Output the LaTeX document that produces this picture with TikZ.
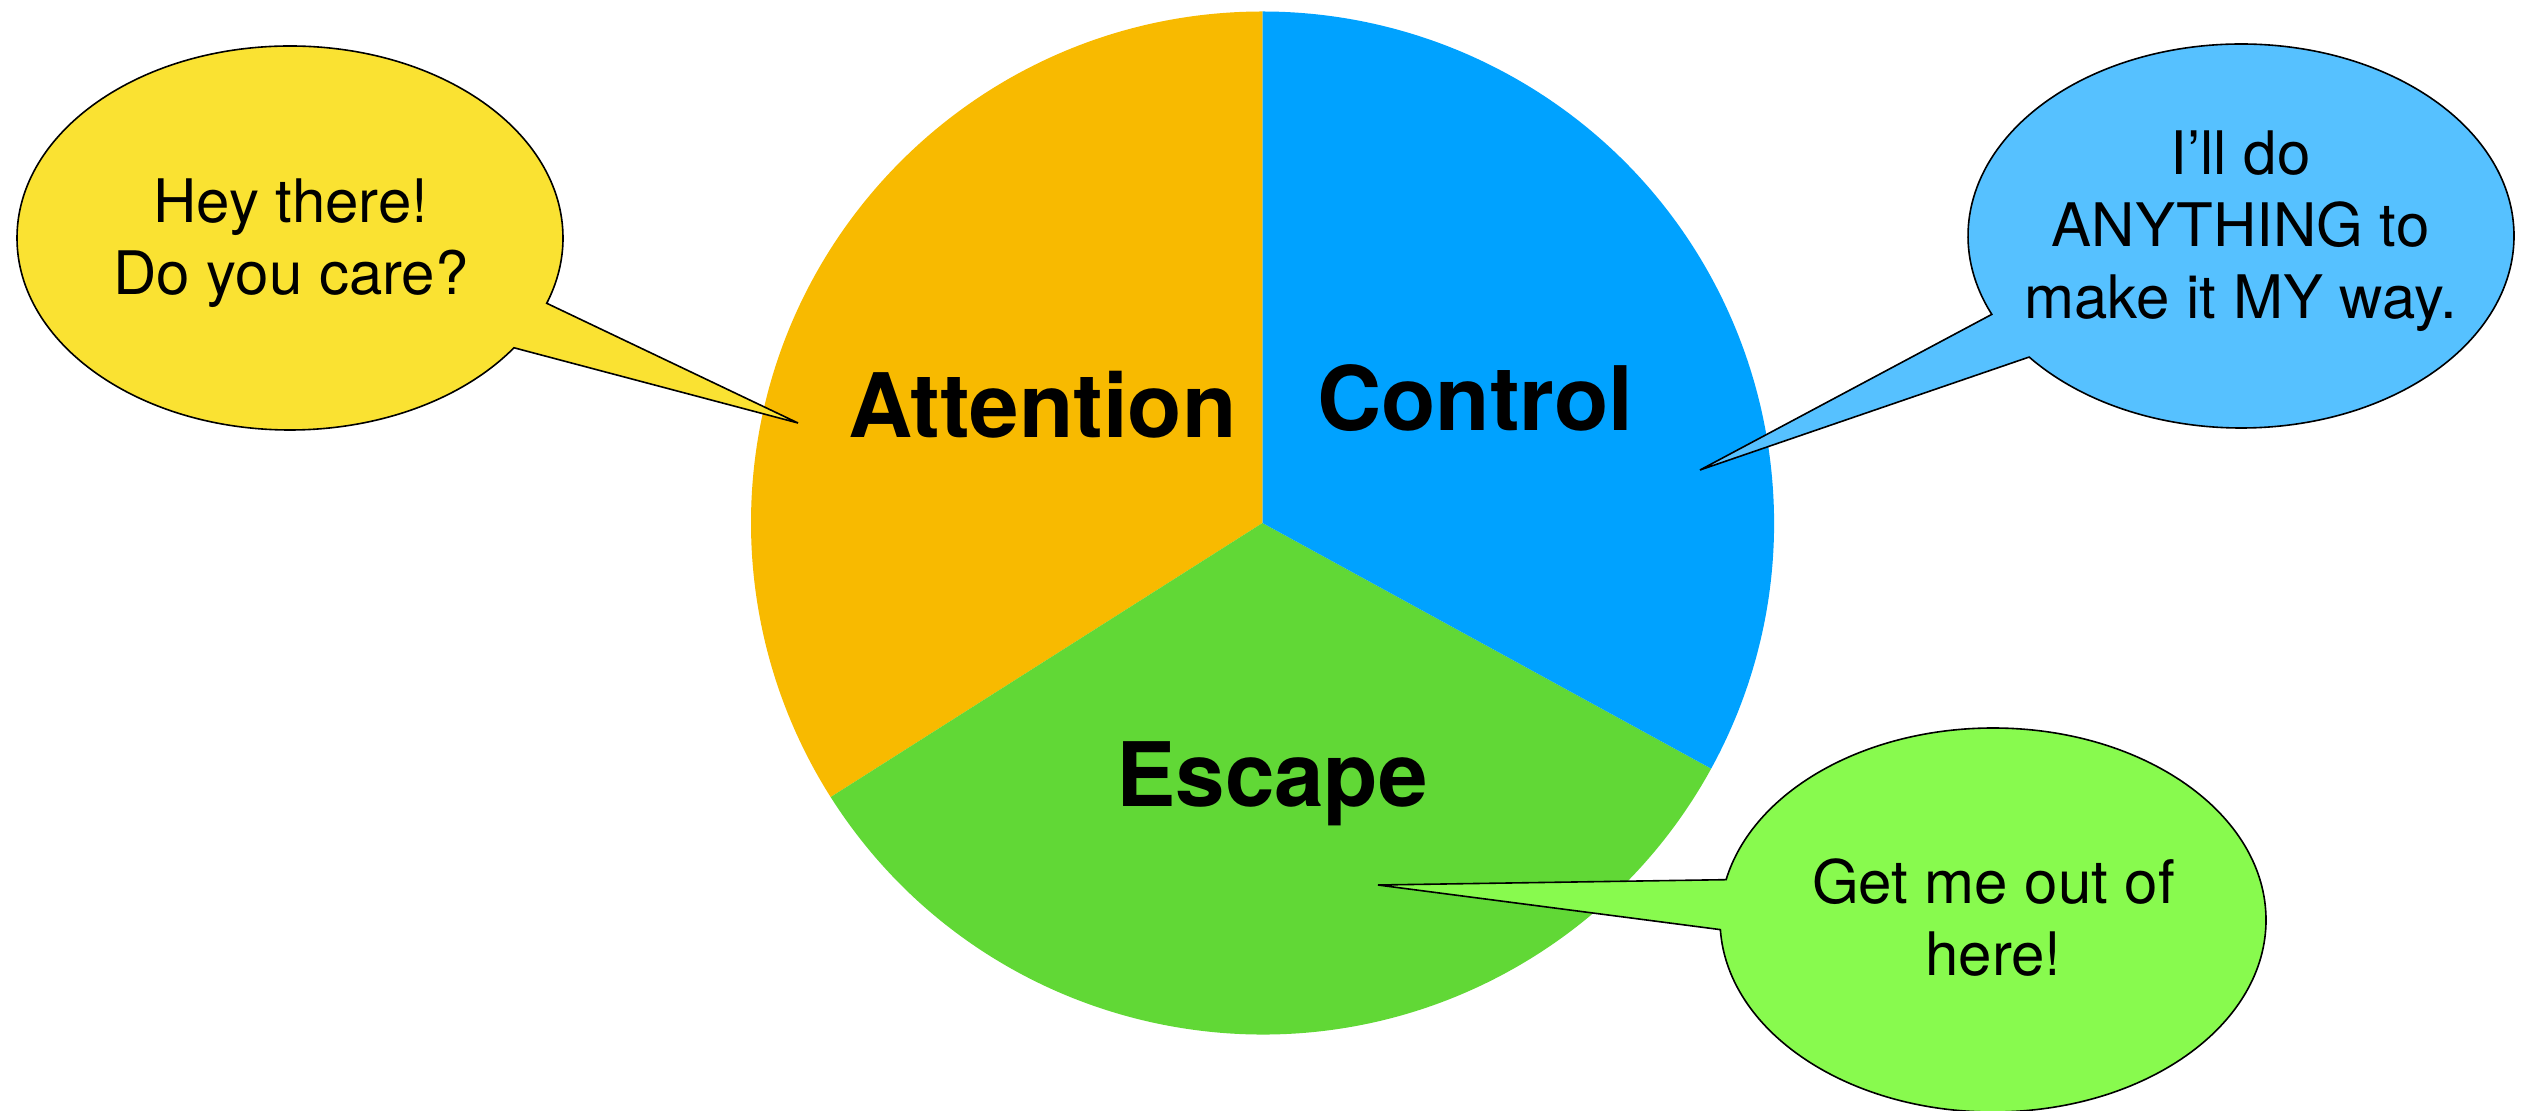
\documentclass[tikz,border=0pt]{standalone}
\usepackage{fontspec}
\setmainfont{TeX Gyre Heros}
\usepackage{xcolor}
\usepackage{tikz}
\usetikzlibrary{shapes.callouts}

\definecolor{attnC}{HTML}{F8BA00}
\definecolor{ctrlC}{HTML}{00A2FF}
\definecolor{escC}{HTML}{61D836}
\definecolor{heyC}{HTML}{FAE232}
\definecolor{wayC}{HTML}{56C1FF}
\definecolor{outC}{HTML}{88FA4E}

\begin{document}
\begin{tikzpicture}[x=0.5pt, y=-0.5pt,
  slicelabel/.style={font=\fontsize{44.5}{53}\selectfont\bfseries, anchor=base, inner sep=0pt},
  bubble/.style={ellipse callout, draw=black, line width=0.8pt, minimum width=273pt, minimum height=192pt, inner sep=0pt},
  bubbletext/.style={align=center, inner sep=0pt, font=\fontsize{30}{36}\selectfont}]
\useasboundingbox (0,0) rectangle (2531,1111);

% Pie slices (y points down, so the angles are mirrored)
\coordinate (pc) at (1262.5,523);
\fill[attnC] (pc) -- ++(-90:511.5) arc[start angle=-90, end angle=-212.4, radius=511.5] -- cycle;
\fill[escC] (pc) -- ++(-212.4:511.5) arc[start angle=-212.4, end angle=-331.3, radius=511.5] -- cycle;
\fill[ctrlC] (pc) -- ++(28.7:511.5) arc[start angle=28.7, end angle=-90, radius=511.5] -- cycle;

% Slice labels
\node[slicelabel] (attn) at (1042.5,437.5) {Attention};
\node[slicelabel] (ctrl) at (1475.5,430.5) {Control};
\node[slicelabel] (esc) at (1272,806.5) {Escape};

% Where the speech bubbles point
\coordinate (heyTip) at (798,423);
\coordinate (wayTip) at (1700,470);
\coordinate (outTip) at (1378,885);

% Speech bubbles
\node[bubble, fill=heyC, callout absolute pointer={(heyTip)}] (hey) at (290,238) {};
\node[bubble, fill=wayC, callout absolute pointer={(wayTip)}] (way) at (2241,236) {};
\node[bubble, fill=outC, callout absolute pointer={(outTip)}] (out) at (1993,920) {};

\node[bubbletext] (heyText) at (291,243.5) {Hey there!\\Do you care?};
\node[bubbletext] (wayText) at (2240.5,231) {I’ll do\\ANYTHING to\\make it MY way.};
\node[bubbletext] (outText) at (1993.5,918) {Get me out of\\here!};
\end{tikzpicture}
\end{document}
